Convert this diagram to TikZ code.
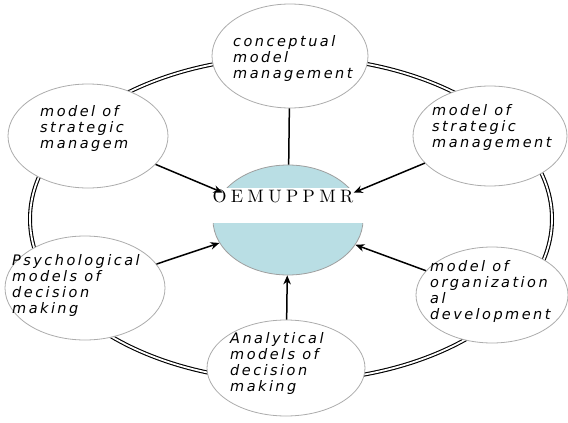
\documentclass[tikz,border=0pt]{standalone}
\usepackage{fontspec}
\usetikzlibrary{shapes.geometric,arrows.meta}
\definecolor{hubblue}{HTML}{B9DEE4}
\newfontfamily\handfont[LetterSpace=17]{DejaVu Sans Oblique}
\newfontfamily\hubfont[LetterSpace=24]{lmroman10-regular.otf}
\begin{document}
\begin{tikzpicture}[x=1pt,y=-1pt,
  outer/.style={ellipse, draw=gray!65, line width=0.8pt, fill=white, inner sep=0pt},
  hub/.style={ellipse, draw=gray!75, line width=0.8pt, fill=hubblue, inner sep=0pt,
    minimum width=150pt, minimum height=110pt},
  txt/.style={align=left, inner sep=0pt, font=\handfont\fontsize{14.5}{16}\selectfont},
  link/.style={line width=1.5pt, black},
  arr/.style={link, -{Stealth[length=9pt,width=7.5pt]}},
  ring/.style={double=white, double distance=1.8pt, line width=1.1pt, draw=black}
]
\useasboundingbox (0,0) rectangle (568,423);
% outer ring
\draw[ring] (291,219) ellipse [x radius=261pt, y radius=162pt];
% hub
\node[hub] (c) at (288,220) {};
\node[fill=white, inner sep=0pt, minimum width=155pt, minimum height=35pt] (band) at (288,205.5) {};
\node[inner sep=0pt, font=\hubfont\fontsize{18}{18}\selectfont] (ct) at (283,196) {OEMUPPMR};
% outer nodes
\node[outer, minimum width=156pt, minimum height=104pt] (t) at (290,56) {};
\node[outer, minimum width=160pt, minimum height=104pt] (ul) at (88,136) {};
\node[outer, minimum width=154pt, minimum height=100pt] (ur) at (490,136) {};
\node[outer, minimum width=160pt, minimum height=104pt] (ll) at (85,288) {};
\node[outer, minimum width=152pt, minimum height=96pt] (lr) at (492,295) {};
\node[outer, minimum width=158pt, minimum height=96pt] (b) at (286,368) {};
% texts
\node[txt, anchor=north west] (tt) at (233,35) {conceptual\\model\\management};
\node[txt, anchor=north west] (ult) at (40,105) {model of\\strategic\\managem};
\node[txt, anchor=north west] (urt) at (432,104) {model of\\strategic\\management};
\node[txt, anchor=north west] (llt) at (12,254) {Psychological\\models of\\decision\\making};
\node[txt, anchor=north west] (lrt) at (430,260) {model of\\organization\\al\\development};
\node[txt, anchor=north west] (bt) at (230,332) {Analytical\\models of\\decision\\making};
% connectors
\draw[link] (t) -- (c);
\draw[arr] (ul) -- (c);
\draw[arr] (ur) -- (c);
\draw[arr] (ll) -- (c);
\draw[arr] (lr) -- (c);
\draw[arr] (b) -- (c);
\end{tikzpicture}
\end{document}
